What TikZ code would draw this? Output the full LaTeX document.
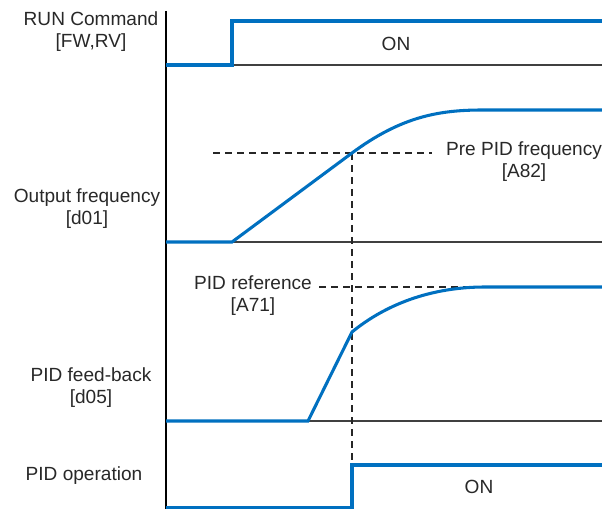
\documentclass[tikz,border=0pt]{standalone}
\usepackage{fontspec}
\setmainfont{Liberation Sans}
\usetikzlibrary{positioning}
\definecolor{sigblue}{RGB}{0,112,192}
\definecolor{txtgray}{RGB}{40,40,40}
\tikzset{
  sigln/.style={line width=2.3pt, sigblue, line join=miter},
  baseln/.style={line width=0.9pt, black!75},
  axisln/.style={line width=0.8pt, black},
  refln/.style={dash pattern=on 5.25pt off 3.75pt, line width=0.9pt, black!85},
  lbl/.style={font=\fontsize{14.3}{16.5}\selectfont, text=txtgray, align=center, inner sep=0pt},
}

\begin{document}
\begin{tikzpicture}[x=0.75pt, y=-0.75pt]
    \useasboundingbox (0,0) rectangle (602,509);
    \node[lbl] (runlbl) at (91,31.5) {RUN Command\\{}[FW,RV]};
    \node[lbl] (freqlbl) at (87,209) {Output frequency\\{}[d01]};
    \node[lbl] (fblbl) at (91,387.5) {PID feed-back\\{}[d05]};
    \node[lbl] (oplbl) at (84,476) {PID operation};
    \node[lbl] (prelbl) at (524,162) {Pre PID frequency\\{}[A82]};
    \node[lbl] (reflbl) at (253,295.5) {PID reference\\{}[A71]};
    \node[lbl] (runon) at (396,44) {ON};
    \node[lbl] (opon) at (479,487) {ON};
    \coordinate (ax0) at (166,11);
    \coordinate (ax1) at (166,509);
    \coordinate (r0) at (166,65);
    \coordinate (r1) at (232,65);
    \coordinate (r2) at (232,21);
    \coordinate (r3) at (602,21);
    \coordinate (rend) at (602,65);
    \coordinate (f0) at (166,242);
    \coordinate (f1) at (232,242);
    \coordinate (fx) at (352,153);
    \coordinate (ftop) at (483,110);
    \coordinate (f3) at (602,110);
    \coordinate (fend) at (602,242);
    \coordinate (fdash) at (213,153);
    \coordinate (fdashend) at (432,153);
    \coordinate (b0) at (166,421);
    \coordinate (b1) at (308,421);
    \coordinate (bx) at (352,332);
    \coordinate (btop) at (485,287);
    \coordinate (b3) at (602,287);
    \coordinate (bend) at (602,421);
    \coordinate (bdash) at (319,287);
    \coordinate (p0) at (166,507.5);
    \coordinate (p1) at (352,507.5);
    \coordinate (p2) at (352,465);
    \coordinate (p3) at (602,465);
    \coordinate (vend) at (352,509);
    \draw[axisln] (ax0) -- (ax1);
    \draw[baseln] (r0) -- (rend);
    \draw[baseln] (f0) -- (fend);
    \draw[baseln] (b0) -- (bend);
    \draw[refln] (fdash) -- (fdashend);
    \draw[refln] (fx) -- (vend);
    \draw[refln] (bdash) -- (btop);
    \draw[sigln] (r0) -- (r1) -- (r2) -- (r3);
    \draw[sigln] (f0) -- (f1) -- (fx) .. controls (402,116) and (440,110) .. (ftop) -- (f3);
    \draw[sigln] (b0) -- (b1) -- (bx) .. controls (385,305) and (430,287) .. (btop) -- (b3);
    \draw[sigln] (p0) -- (p1) -- (p2) -- (p3);
\end{tikzpicture}
\end{document}
